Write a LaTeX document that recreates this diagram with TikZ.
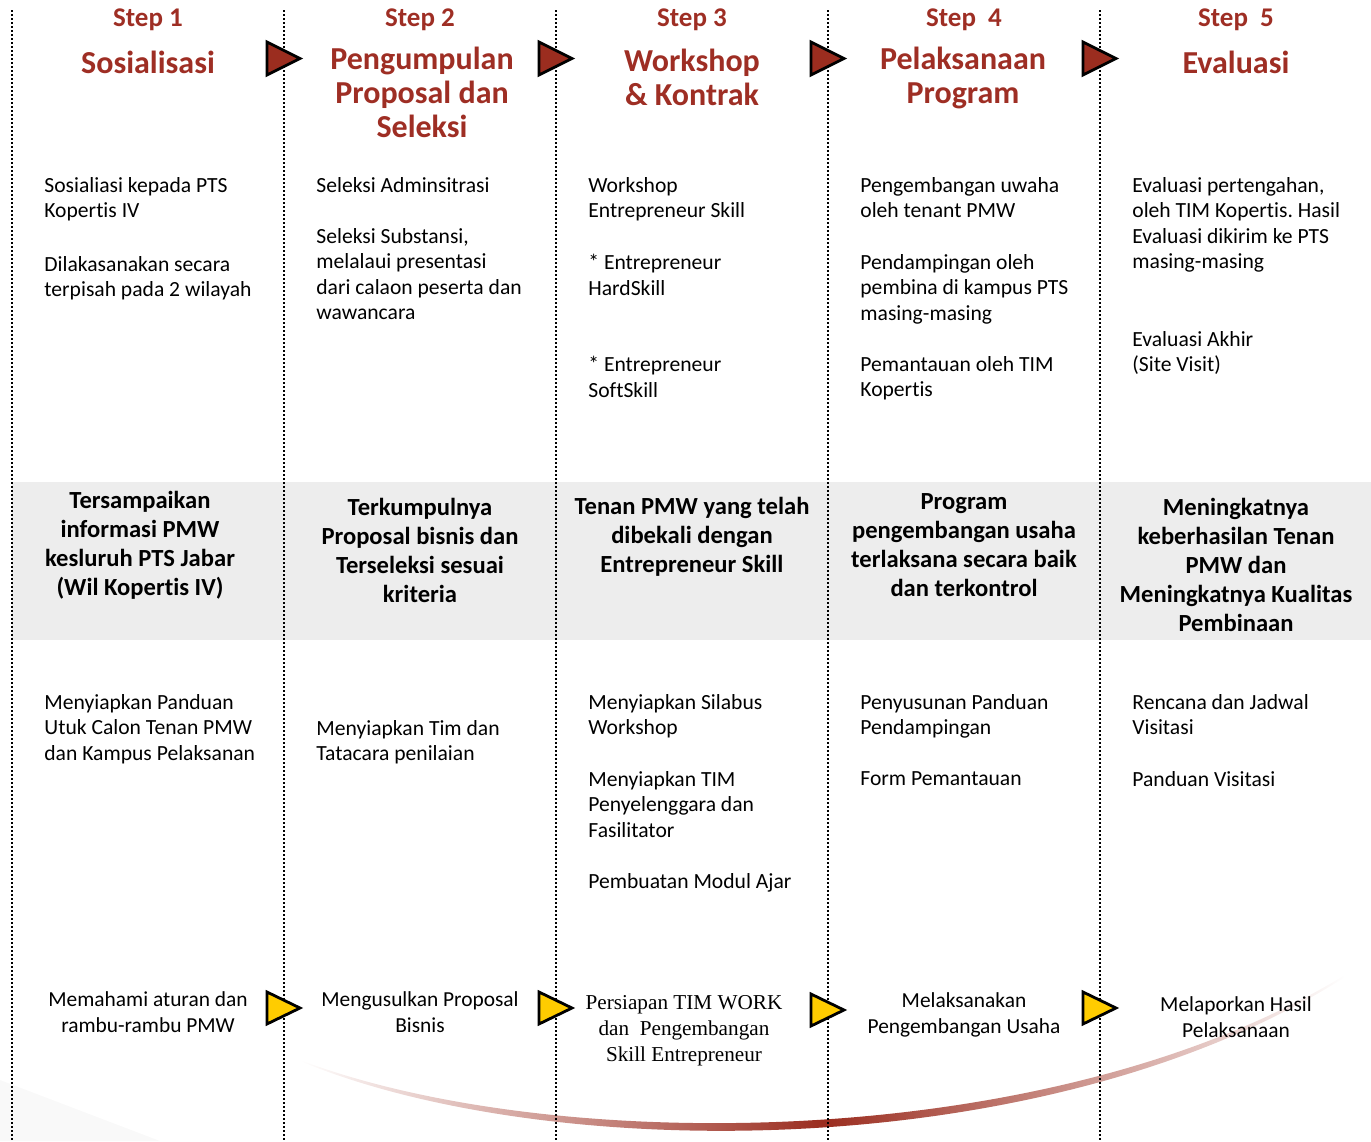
\documentclass[tikz,border=0pt]{standalone}
\usepackage{fontspec}
\setmainfont{Carlito}[Ligatures=NoCommon]
\newfontfamily\serifbody{Liberation Serif}
\definecolor{stepred}{HTML}{9E2E24}
\definecolor{arrowred}{HTML}{9B2D1F}
\definecolor{arrowyellow}{HTML}{FFCC00}
\definecolor{bandgray}{HTML}{EDEDED}
\frenchspacing
\begin{document}
\begin{tikzpicture}
[x=0.5pt, y=-0.5pt,
 steplabel/.style={text=stepred, inner sep=0pt, font=\fontsize{13.5}{15}\selectfont\bfseries},
 titlelabel/.style={text=stepred, inner sep=0pt, align=center, font=\fontsize{16}{17}\selectfont\bfseries},
 activity/.style={anchor=north west, inner sep=0pt, align=left, font=\fontsize{10.8}{12.75}\selectfont},
 outcome/.style={inner sep=0pt, align=center, font=\fontsize{12.3}{14.5}\selectfont\bfseries},
 result/.style={inner sep=0pt, align=center, font=\fontsize{10.7}{13}\selectfont},
 separator/.style={line width=0.8pt, dash pattern=on 0.8pt off 1.2pt},
 redarrow/.style={fill=arrowred, draw=black, line width=1.4pt, line join=miter},
 yellowarrow/.style={fill=arrowyellow, draw=black, line width=1.4pt, line join=miter}]
\useasboundingbox (0,0) rectangle (1371,1141);
%% background: corner, swoosh, band
\fill[gray!5] (0,1080) -- (160,1141) -- (0,1141) -- cycle;
\shade[left color=white, right color=white, middle color=arrowred]
  (300,1060) .. controls (550,1155) and (1050,1155) .. (1345,975)
  -- (1345,977) .. controls (1050,1165) and (550,1165) .. (300,1061) -- cycle;
\fill[bandgray] (12,482) rectangle (1371,640);
%% column separators
\foreach \sepname/\x in {s0/12, s1/284, s2/556, s3/828, s4/1100}
{
  \coordinate (\sepname-top) at (\x,10);
  \coordinate (\sepname-bot) at (\x,1141);
  \draw[separator] (\sepname-top) -- (\sepname-bot);
}
%% step arrows
\foreach \x in {284, 556, 828, 1100}
{
  \filldraw[redarrow] (\x-17,42) -- (\x+16,58.5) -- (\x-17,75) -- cycle;
}
\foreach \x/\y in {284/1008, 556/1008, 828/1010, 1100/1008}
{
  \filldraw[yellowarrow] (\x-17,\y-16) -- (\x+16,\y) -- (\x-17,\y+16) -- cycle;
}
%% headers
\foreach \nodename/\x/\steptext in {step1/148/Step 1, step2/420/Step 2,
  step3/692/Step 3, step4/964/Step\ \ 4, step5/1236/Step\ \ 5}
{
  \node (\nodename) at (\x,20) [steplabel] {\steptext};
}
\foreach \nodename/\x/\y/\titletext in {title1/148/62/Sosialisasi,
  title2/422/92/Pengumpulan\\Proposal dan\\Seleksi,
  title3/692/77.5/Workshop\\\& Kontrak,
  title4/963/77.5/Pelaksanaan\\Program, title5/1236/62/Evaluasi}
{
  \node (\nodename) at (\x,\y) [titlelabel] {\titletext};
}
%% activities
\foreach \nodename/\x/\y/\acttext in {
  a11/44/177/Sosialiasi kepada PTS\\Kopertis IV,
  a12/44/256/Dilakasanakan secara\\terpisah pada 2 wilayah,
  a21/316/177/Seleksi Adminsitrasi,
  a22/316/228/{Seleksi Substansi,\\melalaui presentasi\\dari calaon peserta dan\\wawancara},
  a31/588/177/Workshop\\Entrepreneur Skill,
  a32/588/254/* Entrepreneur\\HardSkill,
  a33/588/356/* Entrepreneur\\SoftSkill,
  a41/860/177/Pengembangan uwaha\\oleh tenant PMW,
  a42/860/254/Pendampingan oleh\\pembina di kampus PTS\\masing-masing,
  a43/860/356/Pemantauan oleh TIM\\Kopertis,
  a51/1132/177/{Evaluasi pertengahan,\\oleh TIM Kopertis. Hasil\\Evaluasi dikirim ke PTS\\masing-masing},
  a52/1132/331/Evaluasi Akhir\\(Site Visit),
  p11/44/694/Menyiapkan Panduan\\Utuk Calon Tenan PMW\\dan Kampus Pelaksanan,
  p21/316/720/Menyiapkan Tim dan\\Tatacara penilaian,
  p31/588/694/Menyiapkan Silabus\\Workshop,
  p32/588/771/Menyiapkan TIM\\Penyelenggara dan\\Fasilitator,
  p33/588/873/Pembuatan Modul Ajar,
  p41/860/694/Penyusunan Panduan\\Pendampingan,
  p42/860/771/Form Pemantauan,
  p51/1132/694/Rencana dan Jadwal\\Visitasi,
  p52/1132/771/Panduan Visitasi}
{
  \node (\nodename) at (\x,\y) [activity] {\acttext};
}
%% outcomes in the band
\foreach \nodename/\x/\y/\outtext in {
  o1/140/545/Tersampaikan\\informasi PMW\\kesluruh PTS Jabar\\(Wil Kopertis IV),
  o2/420/550/Terkumpulnya\\Proposal bisnis dan\\Terseleksi sesuai\\kriteria,
  o3/692/537/Tenan PMW yang telah\\dibekali dengan\\Entrepreneur Skill,
  o4/964/545/Program\\pengembangan usaha\\terlaksana secara baik\\dan terkontrol,
  o5/1236/565/Meningkatnya\\keberhasilan Tenan\\PMW dan\\Meningkatnya Kualitas\\Pembinaan}
{
  \node (\nodename) at (\x,\y) [outcome] {\outtext};
}
%% results
\foreach \nodename/\x/\y/\restext in {
  r1/148/1012/Memahami aturan dan\\rambu-rambu PMW,
  r2/420/1012/Mengusulkan Proposal\\Bisnis,
  r4/964/1015/Melaksanakan\\Pengembangan Usaha,
  r5/1236/1017/Melaporkan Hasil\\Pelaksanaan}
{
  \node (\nodename) at (\x,\y) [result] {\restext};
}
\node (r3) at (684,1031) [result, font=\fontsize{10.6}{13}\selectfont\serifbody]
  {Persiapan TIM WORK\\dan\ \ Pengembangan\\Skill Entrepreneur};
\end{tikzpicture}
\end{document}
